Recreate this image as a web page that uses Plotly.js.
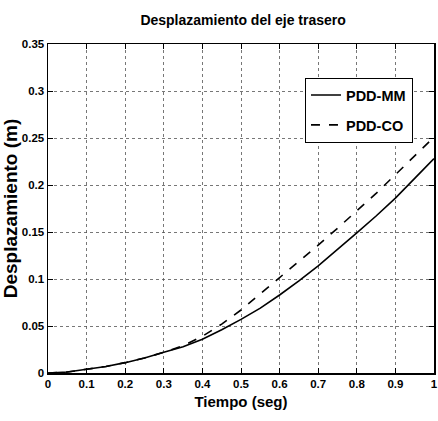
<!DOCTYPE html>
<html>
<head>
<meta charset="utf-8">
<script src="https://cdn.plot.ly/plotly-3.0.1.min.js"></script>
<style>html,body{margin:0;padding:0;background:#fff;}#chart{width:438px;height:421px;}</style>
</head>
<body>
<div id="chart"></div>
<script>
const tiempo = [0,0.05,0.1,0.15,0.2,0.25,0.3,0.35,0.4,0.45,0.5,0.55,0.6,0.65,0.7,0.75,0.8,0.85,0.9,0.95,1.0];
const pddMM  = [0,0.001,0.004,0.007,0.011,0.016,0.022,0.028,0.036,0.046,0.057,0.069,0.083,0.098,0.114,0.131,0.149,0.167,0.186,0.207,0.228];
const pddCO  = [0,0.001,0.004,0.007,0.011,0.016,0.022,0.029,0.039,0.052,0.067,0.084,0.102,0.119,0.136,0.154,0.172,0.191,0.211,0.231,0.251];
const xTicks = [0,0.1,0.2,0.3,0.4,0.5,0.6,0.7,0.8,0.9,1];
const xTickText = ['0','0.1','0.2','0.3','0.4','0.5','0.6','0.7','0.8','0.9','1'];
const yTicks = [0,0.05,0.1,0.15,0.2,0.25,0.3,0.35];
const yTickText = ['0','0.05','0.1','0.15','0.2','0.25','0.3','0.35'];

const sans = '"Liberation Sans", Arial, sans-serif';

const traces = [
  {x: tiempo, y: pddMM, name: 'PDD-MM', legendgroup: 'a', mode: 'lines', line: {color: '#000', width: 1.6, dash: 'solid'}},
  {x: tiempo, y: pddCO, name: 'PDD-CO', legendgroup: 'b', mode: 'lines', line: {color: '#000', width: 1.6, dash: 'dash'}}
];

const axisCommon = {
  showline: true, linecolor: '#000', linewidth: 1.5, mirror: 'allticks',
  ticks: 'inside', ticklen: 5, tickcolor: '#000', tickwidth: 1,
  showgrid: true, gridcolor: '#555', gridwidth: 0.8, griddash: 'dot',
  zeroline: false,
  tickfont: {family: sans, size: 11.5, color: '#000', weight: 'bold'}
};

const layout = {
  width: 438, height: 421,
  margin: {l: 48, r: 4, t: 44, b: 48},
  paper_bgcolor: '#fff', plot_bgcolor: '#fff',
  title: {text: 'Desplazamiento del eje trasero', x: 0.555, xanchor: 'center', y: 0.952, yanchor: 'middle',
          font: {family: sans, size: 14, color: '#000', weight: 'bold'}},
  xaxis: Object.assign({}, axisCommon, {
    range: [0, 1], tickvals: xTicks, ticktext: xTickText,
    title: {text: 'Tiempo (seg)', standoff: 7, font: {family: sans, size: 15, color: '#000', weight: 'bold'}}
  }),
  yaxis: Object.assign({}, axisCommon, {
    range: [0, 0.35], tickvals: yTicks, ticktext: yTickText,
    title: {text: 'Desplazamiento (m)', standoff: 8, font: {family: sans, size: 19, color: '#000', weight: 'bold'}}
  }),
  showlegend: true,
  legend: {x: 0.945, xanchor: 'right', y: 0.897, yanchor: 'top',
           bgcolor: '#fff', bordercolor: '#000', borderwidth: 1.2,
           font: {family: sans, size: 14.5, color: '#000', weight: 'bold'},
           tracegroupgap: 8, itemwidth: 30}
};

Plotly.newPlot('chart', traces, layout, {displayModeBar: false, staticPlot: true});
</script>
</body>
</html>
